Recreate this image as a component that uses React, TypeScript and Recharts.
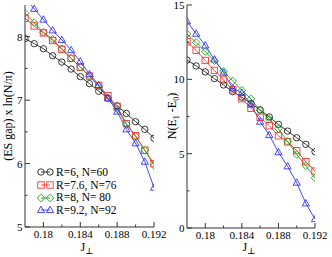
import React from 'react';
import { LineChart, Line, XAxis, YAxis } from 'recharts';

// J_perp values (x) shared by both panels
const jPerp = [0.178, 0.179, 0.18, 0.181, 0.182, 0.183, 0.184, 0.185, 0.186, 0.187, 0.188, 0.189, 0.19, 0.191, 0.192];

// left panel: (ES gap) x ln(N/pi)
const gapR6 = [7.97, 7.89, 7.81, 7.7, 7.6, 7.49, 7.37, 7.26, 7.14, 7.03, 6.91, 6.79, 6.66, 6.54, 6.4];
const gapR76 = [8.29, 8.17, 8.06, 7.94, 7.8, 7.66, 7.52, 7.38, 7.23, 7.07, 6.9, 6.63, 6.44, 6.21, 6.0];
const gapR8 = [8.37, 8.22, 8.07, 7.96, 7.81, 7.66, 7.52, 7.38, 7.22, 7.03, 6.86, 6.62, 6.43, 6.21, 5.97];
const gapR92 = [8.61, 8.44, 8.27, 8.1, 7.95, 7.79, 7.61, 7.41, 7.24, 7.03, 6.82, 6.54, 6.32, 6.03, 5.62];

// right panel: N(E1 - E0)
const enR6 = [11.3, 10.9, 10.5, 10.05, 9.62, 9.17, 8.8, 8.38, 7.95, 7.47, 6.97, 6.52, 6.07, 5.63, 5.13];
const enR76 = [12.53, 11.95, 11.27, 10.6, 9.95, 9.3, 8.7, 8.05, 7.45, 6.88, 6.2, 5.8, 5.2, 4.46, 3.83];
const enR8 = [13.05, 12.48, 11.86, 11.25, 10.55, 9.88, 9.27, 8.68, 7.9, 7.33, 6.68, 5.82, 4.95, 4.18, 3.37];
const enR92 = [13.9, 13.07, 12.28, 11.34, 10.45, 9.4, 9.1, 8.3, 7.15, 6.25, 5.1, 4.15, 3.05, 1.66, 0.6];

const seriesNames = ['R=6, N=60', 'R=7.6, N=76', 'R=8, N= 80', 'R=9.2, N=92'];

const xMajor = [0.18, 0.184, 0.188, 0.192];
const xLabels = ['0.18', '0.184', '0.188', '0.192'];
const xMinor = [0.182, 0.186, 0.19];

const gapMajor = [5, 6, 7, 8];
const gapLabels = ['5', '6', '7', '8'];
const gapMinor = [5.5, 6.5, 7.5];

const enMajor = [0, 5, 10, 15];
const enLabels = ['0', '5', '10', '15'];
const enMinor = [2.5, 7.5, 12.5];

const FONT = '"Liberation Serif", "DejaVu Serif", serif';
const FRAME = '#333';
const colors = ['#222222', '#ff3333', '#1f9f1f', '#3333ff'];
const shapes = ['circle', 'square', 'diamond', 'triangle'];
const keys = ['r6', 'r76', 'r8', 'r92'];

const gapData = jPerp.map((j, i) => ({ j, r6: gapR6[i], r76: gapR76[i], r8: gapR8[i], r92: gapR92[i] }));
const enData = jPerp.map((j, i) => ({ j, r6: enR6[i], r76: enR76[i], r8: enR8[i], r92: enR92[i] }));

const near = (a: number, b: number) => Math.abs(a - b) < 1e-9;

function Marker({ cx, cy, shape, color }: any) {
    if (cx == null || cy == null) return null;
    const s = 3.2;
    if (shape === 'circle') return <circle cx={cx} cy={cy} r={s} fill="none" stroke={color} strokeWidth={0.9} />;
    if (shape === 'square') return <rect x={cx - s} y={cy - s} width={2 * s} height={2 * s} fill="none" stroke={color} strokeWidth={0.9} />;
    if (shape === 'diamond')
        return <polygon points={`${cx},${cy - s - 0.6} ${cx + s + 0.6},${cy} ${cx},${cy + s + 0.6} ${cx - s - 0.6},${cy}`} fill="none" stroke={color} strokeWidth={0.9} />;
    return <polygon points={`${cx},${cy - s - 0.6} ${cx + s + 0.4},${cy + s * 0.8} ${cx - s - 0.4},${cy + s * 0.8}`} fill="none" stroke={color} strokeWidth={0.9} />;
}

function AxisTick(props: any) {
    const { x, y, payload, side, majors, labels } = props;
    const idx = majors.findIndex((m: number) => near(m, payload.value));
    const len = idx >= 0 ? 5 : 2.5;
    const label = idx >= 0 ? labels[idx] : null;
    if (side === 'bottom')
        return (
            <g>
                <line x1={x} y1={y} x2={x} y2={y - len} stroke={FRAME} />
                {label && <text x={x} y={y + 11} textAnchor="middle" fontFamily={FONT} fontSize={11} fill="#000">{label}</text>}
            </g>
        );
    if (side === 'top') return <line x1={x} y1={y} x2={x} y2={y + len} stroke={FRAME} />;
    if (side === 'left')
        return (
            <g>
                <line x1={x} y1={y} x2={x + len} y2={y} stroke={FRAME} />
                {label && <text x={x - 2.5} y={y + 4} textAnchor="end" fontFamily={FONT} fontSize={11} fill="#000">{label}</text>}
            </g>
        );
    return <line x1={x} y1={y} x2={x - len} y2={y} stroke={FRAME} />;
}

function LegendBox() {
    return (
        <div style={{ position: 'absolute', left: 37, top: 166, fontFamily: FONT, fontSize: 11, lineHeight: '12.7px', color: '#000' }}>
            {seriesNames.map((name, k) => (
                <div key={k} style={{ display: 'flex', alignItems: 'center', height: 12.7, whiteSpace: 'nowrap' }}>
                    <svg width={18} height={10} style={{ marginRight: 1 }}>
                        <line x1={4} y1={5} x2={13} y2={5} stroke={colors[k]} strokeWidth={0.9} />
                        <Marker cx={4} cy={5} shape={shapes[k]} color={colors[k]} />
                        <Marker cx={13} cy={5} shape={shapes[k]} color={colors[k]} />
                    </svg>
                    <span style={{ fontSize: 11.5 }}>{name}</span>
                </div>
            ))}
        </div>
    );
}

function JTitle({ cx }: { cx: number }) {
    return (
        <text x={cx} y={251} textAnchor="middle" fontFamily={FONT} fontSize={12} fill="#000">
            J<tspan fontSize={9} dy={3}>⊥</tspan>
        </text>
    );
}

function GapTitle() {
    return (
        <text x={12} y={116} transform="rotate(-90 12 116)" textAnchor="middle" fontFamily={FONT} fontSize={12} fill="#000">
            (ES gap) x ln(N/π)
        </text>
    );
}

function EnTitle() {
    return (
        <text x={10} y={116} transform="rotate(-90 10 116)" textAnchor="middle" fontFamily={FONT} fontSize={12} fill="#000">
            N(E<tspan fontSize={8} dy={3}>1</tspan>
            <tspan dy={-3}> -E</tspan>
            <tspan fontSize={8} dy={3}>0</tspan>
            <tspan dy={-3}>)</tspan>
        </text>
    );
}

function renderLines() {
    return keys.map((k, i) => (
        <Line
            key={k}
            xAxisId="b"
            yAxisId="l"
            dataKey={k}
            name={seriesNames[i]}
            stroke={colors[i]}
            strokeWidth={0.9}
            dot={(p: any) => <Marker key={`${k}-${p.index}`} cx={p.cx} cy={p.cy} shape={shapes[i]} color={colors[i]} />}
            isAnimationActive={false}
        />
    ));
}

export default function App() {
    const xTicks = [...xMajor, ...xMinor].sort((a, b) => a - b);
    const gapTicks = [...gapMajor, ...gapMinor].sort((a, b) => a - b);
    const enTicks = [...enMajor, ...enMinor].sort((a, b) => a - b);
    const axisCommon = { tickSize: 0, tickMargin: 0, tickLine: false, axisLine: { stroke: FRAME, strokeWidth: 1 }, interval: 0 as const, allowDataOverflow: true };

    return (
        <div style={{ position: 'absolute', left: 0, top: 0, width: 332, height: 257, background: '#fff' }}>
            <div style={{ position: 'absolute', left: 0, top: 0 }}>
                <LineChart width={166} height={257} data={gapData} margin={{ top: 5, right: 12, left: 0, bottom: 0 }}>
                    <XAxis xAxisId="b" type="number" dataKey="j" domain={[0.178, 0.192]} ticks={xTicks} height={30}
                        tick={<AxisTick side="bottom" majors={xMajor} labels={xLabels} />} label={<JTitle cx={87} />} {...axisCommon} />
                    <XAxis xAxisId="t" orientation="top" type="number" dataKey="j" domain={[0.178, 0.192]} ticks={xTicks} height={0}
                        tick={<AxisTick side="top" majors={xMajor} labels={xLabels} />} {...axisCommon} />
                    <YAxis yAxisId="l" type="number" domain={[5, 8.5]} ticks={gapTicks} width={25}
                        tick={<AxisTick side="left" majors={gapMajor} labels={gapLabels} />} label={<GapTitle />} {...axisCommon} />
                    <YAxis yAxisId="r" orientation="right" type="number" domain={[5, 8.5]} ticks={gapTicks} width={0}
                        tick={<AxisTick side="right" majors={gapMajor} labels={gapLabels} />} {...axisCommon} />
                    {renderLines()}
                </LineChart>
                <LegendBox />
            </div>
            <div style={{ position: 'absolute', left: 166, top: 0 }}>
                <LineChart width={166} height={257} data={enData} margin={{ top: 5, right: 17, left: 0, bottom: 0 }}>
                    <XAxis xAxisId="b" type="number" dataKey="j" domain={[0.178, 0.192]} ticks={xTicks} height={29}
                        tick={<AxisTick side="bottom" majors={xMajor} labels={xLabels} />} label={<JTitle cx={83} />} {...axisCommon} />
                    <XAxis xAxisId="t" orientation="top" type="number" dataKey="j" domain={[0.178, 0.192]} ticks={xTicks} height={0}
                        tick={<AxisTick side="top" majors={xMajor} labels={xLabels} />} {...axisCommon} />
                    <YAxis yAxisId="l" type="number" domain={[0, 15]} ticks={enTicks} width={21}
                        tick={<AxisTick side="left" majors={enMajor} labels={enLabels} />} label={<EnTitle />} {...axisCommon} />
                    <YAxis yAxisId="r" orientation="right" type="number" domain={[0, 15]} ticks={enTicks} width={0}
                        tick={<AxisTick side="right" majors={enMajor} labels={enLabels} />} {...axisCommon} />
                    {renderLines()}
                </LineChart>
            </div>
        </div>
    );
}
